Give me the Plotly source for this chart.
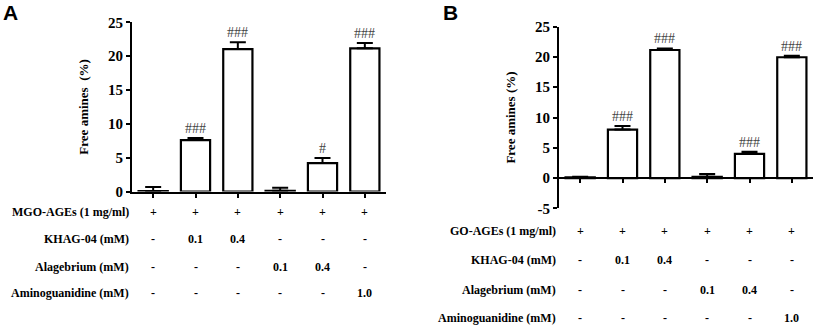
import plotly.graph_objects as go

# ---------------- data ----------------
groups = ["G1", "G2", "G3", "G4", "G5", "G6"]

vals_A = [0.05, 7.6, 21.05, 0.1, 4.2, 21.15]
err_A = [0.6, 0.3, 1.0, 0.45, 0.75, 0.8]
sig_A = ["", "###", "###", "", "#", "###"]

vals_B = [0.1, 8.0, 21.15, 0.2, 4.0, 19.95]
err_B = [0.1, 0.6, 0.25, 0.45, 0.35, 0.25]
sig_B = ["", "###", "###", "", "###", "###"]

row_labels_A = ["MGO-AGEs (1 mg/ml)", "KHAG-04 (mM)", "Alagebrium (mM)", "Aminoguanidine (mM)"]
row_labels_B = ["GO-AGEs (1 mg/ml)", "KHAG-04 (mM)", "Alagebrium (mM)", "Aminoguanidine (mM)"]
table_vals = [
    ["+", "+", "+", "+", "+", "+"],
    ["-", "0.1", "0.4", "-", "-", "-"],
    ["-", "-", "-", "0.1", "0.4", "-"],
    ["-", "-", "-", "-", "-", "1.0"],
]

y_ticks_A = [0, 5, 10, 15, 20, 25]
y_ticklabels_A = ["0", "5", "10", "15", "20", "25"]
y_ticks_B = [-5, 0, 5, 10, 15, 20, 25]
y_ticklabels_B = ["-5", "0", "5", "10", "15", "20", "25"]
y_title_A = "Free amines  (%)"
y_title_B = "Free amines (%)"

# ---------------- layout constants ----------------
W, H = 816, 327
SERIF = "Liberation Serif"
SANS = "Liberation Sans"

def fx(px):
    return px / W

def fy(py):
    return 1 - py / H

xdomA = [fx(132), fx(386)]
ydomA = [fy(191.5), fy(22.3)]
xdomB = [fx(559), fx(813)]
ydomB = [fy(208.3), fy(26.7)]
rangeB = [-5, 25]
zeroB = ydomB[0] + (0 - rangeB[0]) / (rangeB[1] - rangeB[0]) * (ydomB[1] - ydomB[0])

xpos = list(range(len(groups)))

fig = go.Figure()

bar_style = dict(marker=dict(color="white", line=dict(color="black", width=2.2)), showlegend=False)

fig.add_trace(go.Bar(
    x=xpos, y=vals_A, xaxis="x", yaxis="y",
    error_y=dict(type="data", symmetric=False, array=err_A, arrayminus=[0] * 6,
                 color="black", thickness=2, width=8),
    **bar_style))
fig.add_trace(go.Bar(
    x=xpos, y=vals_B, xaxis="x2", yaxis="y2",
    error_y=dict(type="data", symmetric=False, array=err_B, arrayminus=[0] * 6,
                 color="black", thickness=2, width=8),
    **bar_style))

axis_common = dict(showgrid=False, zeroline=False, showline=True, linecolor="black",
                   linewidth=2, ticks="outside", tickcolor="black", tickwidth=1.5, ticklen=4)

tickfont = dict(family=SERIF, size=15, color="black", weight="bold")
titlefont = dict(family=SERIF, size=13, color="black", weight="bold")

fig.update_layout(
    width=W, height=H,
    margin=dict(l=0, r=0, t=0, b=0, autoexpand=False),
    paper_bgcolor="white", plot_bgcolor="white",
    bargap=0.31,
    xaxis=dict(domain=xdomA, range=[-0.5, 5.5], anchor="y", tickvals=xpos,
               showticklabels=False, **axis_common),
    yaxis=dict(domain=ydomA, range=[0, 25], anchor="x", tickvals=y_ticks_A,
               ticktext=y_ticklabels_A,
               tickfont=tickfont, title=dict(text=y_title_A, font=titlefont, standoff=16),
               **axis_common),
    xaxis2=dict(domain=xdomB, range=[-0.5, 5.5], anchor="free", position=zeroB,
                tickvals=xpos, showticklabels=False, **axis_common),
    yaxis2=dict(domain=ydomB, range=rangeB, anchor="x2", tickvals=y_ticks_B,
                ticktext=y_ticklabels_B,
                tickfont=tickfont, title=dict(text=y_title_B, font=titlefont, standoff=16),
                **axis_common),
)

annotations = []
# significance marks
for xr, yr, vals, errs, sigs in [("x", "y", vals_A, err_A, sig_A), ("x2", "y2", vals_B, err_B, sig_B)]:
    for i, s in enumerate(sigs):
        if s:
            annotations.append(dict(x=xpos[i], y=vals[i] + errs[i], xref=xr, yref=yr,
                                    text=s, showarrow=False, yanchor="bottom", yshift=0,
                                    font=dict(family=SERIF, size=14, color="#444444")))

# condition table
rows_A = [212.3, 239.3, 266.7, 293.3]
rows_B = [231, 260, 290, 318.3]
for xr, labels, rows, label_x in [("x", row_labels_A, rows_A, 131), ("x2", row_labels_B, rows_B, 558)]:
    for r, (lab, py) in enumerate(zip(labels, rows)):
        annotations.append(dict(x=fx(label_x), y=fy(py), xref="paper", yref="paper",
                                text=lab, showarrow=False, xanchor="right", yanchor="middle",
                                font=dict(family=SERIF, size=12, color="black", weight="bold")))
        for i, v in enumerate(table_vals[r]):
            annotations.append(dict(x=xpos[i], y=fy(py), xref=xr, yref="paper",
                                    text=v, showarrow=False, xanchor="center", yanchor="middle",
                                    font=dict(family=SERIF, size=12, color="black", weight="bold")))

# panel letters
annotations.append(dict(x=fx(1), y=fy(-1), xref="paper", yref="paper", text="A",
                        showarrow=False, xanchor="left", yanchor="top",
                        font=dict(family=SANS, size=21, color="black", weight="bold")))
annotations.append(dict(x=fx(441), y=fy(-1), xref="paper", yref="paper", text="B",
                        showarrow=False, xanchor="left", yanchor="top",
                        font=dict(family=SANS, size=21, color="black", weight="bold")))

fig.update_layout(annotations=annotations)

fig.write_html("out.html", config={"displayModeBar": False},
               post_script="document.body.style.margin='0';document.body.style.padding='0';")
